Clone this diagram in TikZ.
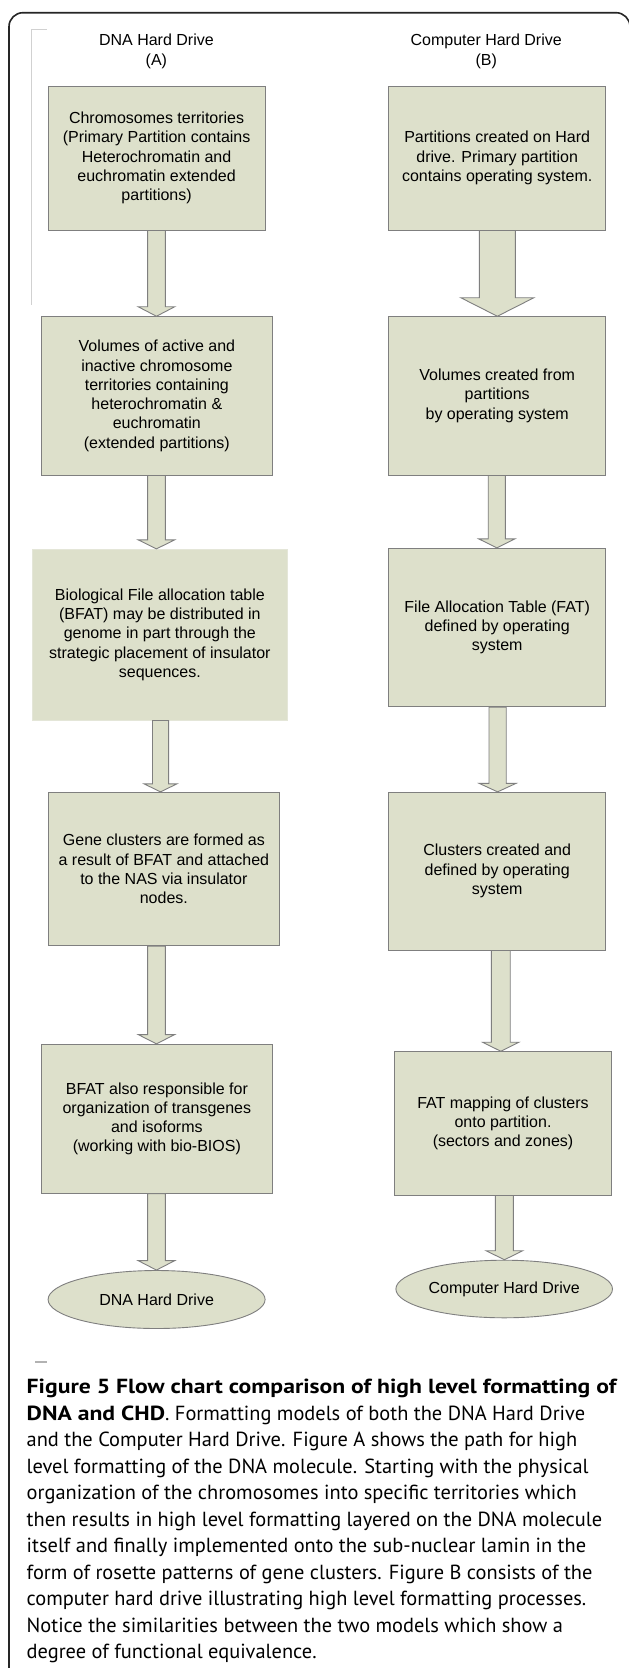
\documentclass[tikz,border=0pt]{standalone}
\usepackage{fontspec}
\setmainfont{Liberation Sans}
\newfontfamily\capfont[BoldFeatures={FakeStretch=1.16}]{PT Sans}
\usetikzlibrary{calc,shapes.geometric}
\definecolor{boxfill}{HTML}{DDE0CB}
\definecolor{boxline}{HTML}{7F7F7F}
\definecolor{faintline}{HTML}{E4E6D8}
\newcommand{\diagfont}{\fontsize{16}{19.3}\selectfont}
\newcommand{\headfont}{\fontsize{16}{20}\selectfont}
\newcommand{\captionfont}{\capfont\fontsize{20.4}{26.5}\selectfont}
\tikzset{
  flowbox/.style={draw=boxline, fill=boxfill, line width=0.9pt, inner sep=0pt, align=center, font=\diagfont},
  faintbox/.style={flowbox, draw=faintline},
  endoval/.style={flowbox, ellipse, minimum width=217pt, minimum height=58pt},
  blockarrow/.style={draw=boxline, fill=boxfill, line width=0.9pt, line join=miter},
  headtext/.style={align=center, inner sep=0pt, font=\headfont},
  capline/.style={anchor=base west, inner sep=0pt, font=\captionfont},
  framestyle/.style={draw=black!85, line width=1.6pt, rounded corners=14pt},
  bracketline/.style={draw=black!18, line width=1.3pt}
}
% #1 source, #2 target, #3 x centre, #4 shaft half width, #5 head half width, #6 head length
\newcommand{\flowarrow}[6]{%
  \draw[blockarrow] let \p1=(#1.south), \p2=(#2.north) in
    ({(#3-#4)*1pt},\y1) -- ({(#3+#4)*1pt},\y1) -- ({(#3+#4)*1pt},\y2+#6pt)
    -- ({(#3+#5)*1pt},\y2+#6pt) -- ({#3*1pt},\y2) -- ({(#3-#5)*1pt},\y2+#6pt)
    -- ({(#3-#4)*1pt},\y2+#6pt) -- cycle;}
\begin{document}
\begin{tikzpicture}[x=1pt, y=-1pt]
\useasboundingbox (0,0) rectangle (629,1668);
\fill[white] (0,0) rectangle (629,1668);
% outer frame
\draw[framestyle] (9,1680) |- (630,12.7) -- (630,1680);
% faint bracket at top left
\draw[bracketline] (46.7,29.3) -- (31.7,29.3) -- (31.7,305);
% headers
\node[headtext] (ha) at (156.4,51) {DNA Hard Drive\\(A)};
\node[headtext] (hb) at (486.2,51) {Computer Hard Drive\\(B)};
% column A
\node[flowbox, minimum width=217pt, minimum height=144pt] (a1) at (156.6,158)
  {Chromosomes territories\\(Primary Partition contains\\Heterochromatin and\\euchromatin extended\\partitions)};
\node[flowbox, minimum width=231.1pt, minimum height=158.3pt] (a2) at (156.85,395.85)
  {Volumes of active and\\inactive chromosome\\territories containing\\heterochromatin \&\\euchromatin\\(extended partitions)};
\node[faintbox, minimum width=255.5pt, minimum height=170.7pt] (a3) at (159.85,634.65)
  {Biological File allocation table\\(BFAT) may be distributed in\\genome in part through the\\strategic placement of insulator\\sequences.};
\node[flowbox, minimum width=231.5pt, minimum height=153.4pt] (a4) at (163.85,869)
  {Gene clusters are formed as\\a result of BFAT and attached\\to the NAS via insulator\\nodes.};
\node[flowbox, minimum width=231.1pt, minimum height=149pt] (a5) at (156.85,1118.8)
  {BFAT also responsible for\\organization of transgenes\\and isoforms\\(working with bio-BIOS)};
\node[endoval] (ea) at (156.6,1299.5) {DNA Hard Drive};
% column B
\node[flowbox, minimum width=217pt, minimum height=144pt] (b1) at (497.2,158)
  {Partitions created on Hard\\drive. Primary partition\\contains operating system.};
\node[flowbox, minimum width=217pt, minimum height=158.3pt] (b2) at (497.2,395.85)
  {Volumes created from\\partitions\\by operating system};
\node[flowbox, minimum width=217pt, minimum height=158.4pt] (b3) at (497.2,627.5)
  {File Allocation Table (FAT)\\defined by operating\\system};
\node[flowbox, minimum width=217pt, minimum height=157.7pt] (b4) at (497.2,871.15)
  {Clusters created and\\defined by operating\\system};
\node[flowbox, minimum width=217.4pt, minimum height=143.3pt] (b5) at (503,1123.35)
  {FAT mapping of clusters\\onto partition.\\(sectors and zones)};
\node[endoval, minimum width=216.6pt, minimum height=57.6pt] (eb) at (504.2,1289)
  {Computer Hard Drive};
% block arrows
\flowarrow{a1}{a2}{156.45}{8.85}{18.25}{9.5}
\flowarrow{a2}{a3}{156.45}{8.85}{18.25}{9}
\flowarrow{a3}{a4}{160.5}{8.05}{16.45}{8}
\flowarrow{a4}{a5}{156.45}{8.85}{18.25}{9.3}
\flowarrow{a5}{ea}{156.45}{8.85}{18.25}{9.4}
\flowarrow{b1}{b2}{497.35}{18.05}{36.5}{18.5}
\flowarrow{b2}{b3}{496.8}{8.6}{18.1}{9}
\flowarrow{b3}{b4}{497.6}{8.6}{18.45}{8.5}
\flowarrow{b4}{b5}{500.8}{9.4}{18.1}{9}
\flowarrow{b5}{eb}{504.4}{9}{18.25}{9}
% small mark above caption
\draw[draw=black!30, line width=2pt] (35,1362) -- (47,1362);
% caption
\node[capline] (cap1) at (26.5,1393.5) {\textbf{Figure 5 Flow chart comparison of high level formatting of}};
\node[capline] (cap2) at (26.5,1420) {\textbf{DNA and CHD}. Formatting models of both the DNA Hard Drive};
\node[capline] (cap3) at (26.5,1446.5) {and the Computer Hard Drive. Figure A shows the path for high};
\node[capline] (cap4) at (26.5,1473) {level formatting of the DNA molecule. Starting with the physical};
\node[capline] (cap5) at (26.5,1499.5) {organization of the chromosomes into specific territories which};
\node[capline] (cap6) at (26.5,1526) {then results in high level formatting layered on the DNA molecule};
\node[capline] (cap7) at (26.5,1552.5) {itself and finally implemented onto the sub-nuclear lamin in the};
\node[capline] (cap8) at (26.5,1579) {form of rosette patterns of gene clusters. Figure B consists of the};
\node[capline] (cap9) at (26.5,1605.5) {computer hard drive illustrating high level formatting processes.};
\node[capline] (cap10) at (26.5,1632) {Notice the similarities between the two models which show a};
\node[capline] (cap11) at (26.5,1658.5) {degree of functional equivalence.};
\end{tikzpicture}
\end{document}
